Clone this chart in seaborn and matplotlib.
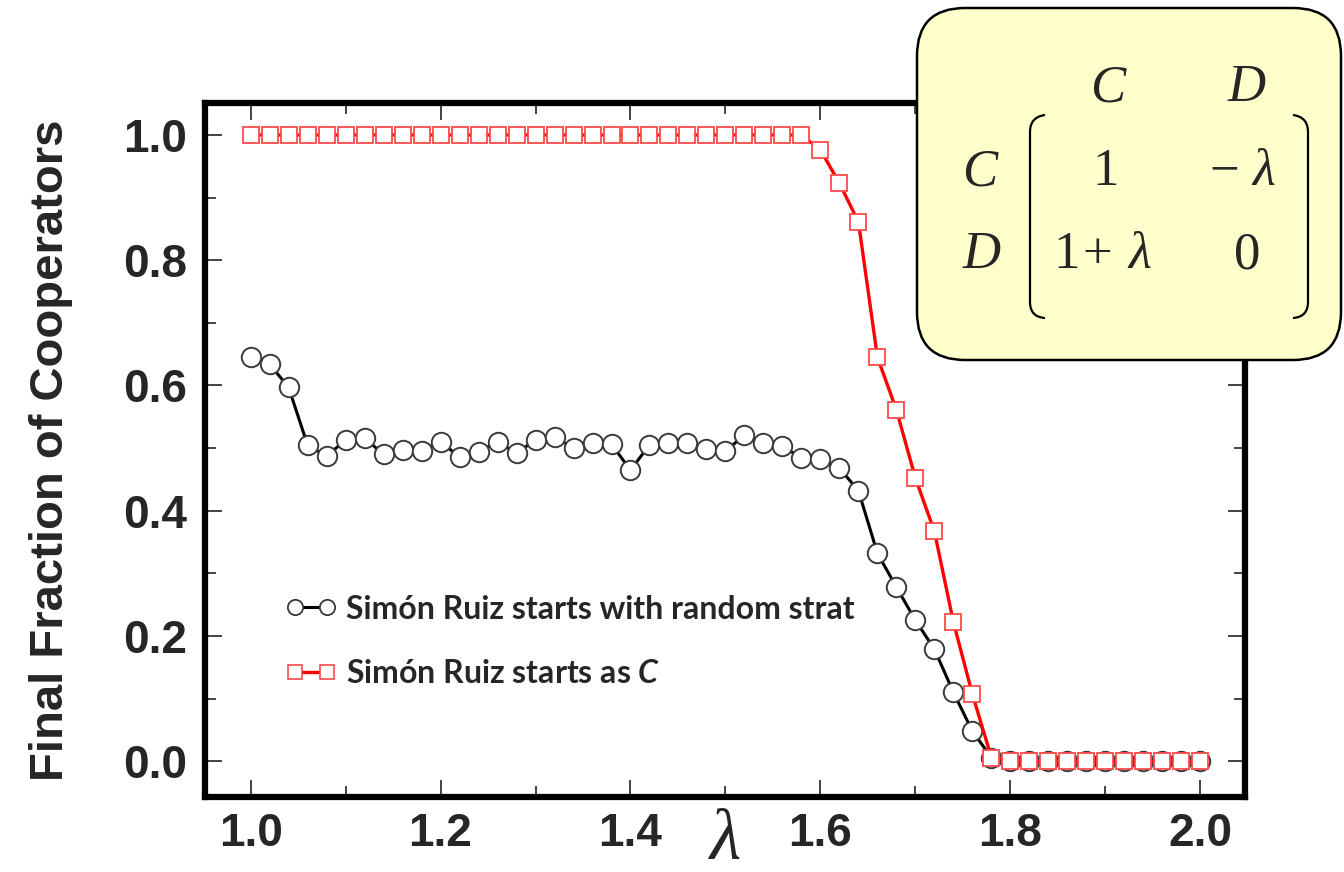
import matplotlib
matplotlib.use("Agg")
import matplotlib.pyplot as plt
import seaborn as sns
import pandas as pd
from matplotlib.patches import FancyBboxPatch, PathPatch
from matplotlib.path import Path
from matplotlib.lines import Line2D
from matplotlib.transforms import IdentityTransform
from matplotlib.ticker import MultipleLocator

# ---------------- data ----------------
lam = [1.00, 1.02, 1.04, 1.06, 1.08, 1.10, 1.12, 1.14, 1.16, 1.18,
       1.20, 1.22, 1.24, 1.26, 1.28, 1.30, 1.32, 1.34, 1.36, 1.38,
       1.40, 1.42, 1.44, 1.46, 1.48, 1.50, 1.52, 1.54, 1.56, 1.58,
       1.60, 1.62, 1.64, 1.66, 1.68, 1.70, 1.72, 1.74, 1.76, 1.78,
       1.80, 1.82, 1.84, 1.86, 1.88, 1.90, 1.92, 1.94, 1.96, 1.98, 2.00]

random_strat = [0.645, 0.634, 0.597, 0.505, 0.487, 0.513, 0.516, 0.490, 0.497, 0.495,
                0.510, 0.486, 0.494, 0.510, 0.492, 0.513, 0.518, 0.500, 0.508, 0.506,
                0.465, 0.505, 0.508, 0.508, 0.498, 0.495, 0.521, 0.508, 0.503, 0.484,
                0.482, 0.468, 0.432, 0.332, 0.278, 0.225, 0.179, 0.110, 0.048, 0.006,
                0.0, 0.0, 0.0, 0.0, 0.0, 0.0, 0.0, 0.0, 0.0, 0.0, 0.0]

starts_c = [1.0, 1.0, 1.0, 1.0, 1.0, 1.0, 1.0, 1.0, 1.0, 1.0,
            1.0, 1.0, 1.0, 1.0, 1.0, 1.0, 1.0, 1.0, 1.0, 1.0,
            1.0, 1.0, 1.0, 1.0, 1.0, 1.0, 1.0, 1.0, 1.0, 1.0,
            0.976, 0.923, 0.861, 0.645, 0.561, 0.452, 0.367, 0.222, 0.107, 0.006,
            0.0, 0.0, 0.0, 0.0, 0.0, 0.0, 0.0, 0.0, 0.0, 0.0, 0.0]

label_random = "Simón Ruiz starts with random strat"
label_c = "Simón Ruiz starts as $\\mathit{C}$"

x_ticks = [1.0, 1.2, 1.4, 1.6, 1.8, 2.0]
y_ticks = [0.0, 0.2, 0.4, 0.6, 0.8, 1.0]

df = pd.DataFrame({"lam": lam, "random": random_strat, "startc": starts_c})

# ---------------- style ----------------
sns.set_style("ticks")
plt.rcParams["font.family"] = ["Liberation Sans", "DejaVu Sans"]
plt.rcParams["mathtext.fontset"] = "custom"
plt.rcParams["mathtext.it"] = "Lato:italic:bold"
plt.rcParams["mathtext.rm"] = "Lato:bold"

W, H = 1344, 872
fig = plt.figure(figsize=(W / 100, H / 100), dpi=100)
ax = fig.add_axes([205 / W, 1 - 797 / H, 1040 / W, 694 / H])

sns.lineplot(data=df, x="lam", y="random", ax=ax, color="black", lw=2.2,
             marker="o", markersize=14, markerfacecolor="white",
             markeredgecolor="#3a3a3a", markeredgewidth=1.4, zorder=3)
sns.lineplot(data=df, x="lam", y="startc", ax=ax, color="#ff0000", lw=2.4,
             marker="s", markersize=11.5, markerfacecolor="white",
             markeredgecolor="#ff4a4a", markeredgewidth=1.3, zorder=4)

ax.set_xlim(0.952, 2.047)
ax.set_ylim(-0.057, 1.051)
ax.set_xticks(x_ticks)
ax.set_yticks(y_ticks)
ax.set_xticklabels([f"{v:.1f}" for v in x_ticks])
ax.set_yticklabels([f"{v:.1f}" for v in y_ticks])
ax.xaxis.set_minor_locator(MultipleLocator(0.1))
ax.yaxis.set_minor_locator(MultipleLocator(0.1))
ax.tick_params(which="both", direction="in", top=True, right=True, width=1.2,
               color="#222222")
ax.tick_params(which="major", length=12)
ax.tick_params(which="minor", length=8)
ax.tick_params(axis="y", which="major", pad=13)
ax.tick_params(axis="x", which="major", pad=11)
for lab in ax.get_xticklabels() + ax.get_yticklabels():
    lab.set_fontsize(33)
    lab.set_fontweight("bold")
for sp in ax.spines.values():
    sp.set_linewidth(4.5)
    sp.set_color("black")

ax.set_ylabel("Final Fraction of Cooperators", fontsize=34, fontweight="bold",
              labelpad=36)
ax.set_xlabel("λ", fontsize=52, family="Liberation Serif", style="italic",
              labelpad=-34)

handles = [
    Line2D([], [], color="black", lw=2.2, marker="o", markersize=11,
           markerfacecolor="white", markeredgecolor="#3a3a3a", markeredgewidth=1.3),
    Line2D([], [], color="#ff0000", lw=2.4, marker="s", markersize=10,
           markerfacecolor="white", markeredgecolor="#ff4a4a", markeredgewidth=1.2),
]
leg = ax.legend(handles, [label_random, label_c], loc="upper left",
                bbox_to_anchor=(0.05, 0.333), frameon=False, numpoints=2,
                handlelength=1.6, handletextpad=0.3, labelspacing=1.12,
                prop={"family": "Lato", "weight": "bold", "size": 23})

# ---------------- payoff matrix box ----------------
T = IdentityTransform()


def P(x, y):
    return (x, H - y)


box = FancyBboxPatch(P(917, 360), 1341 - 917, 352,
                     boxstyle="round,pad=0,rounding_size=48",
                     facecolor="#ffffcc", edgecolor="black", linewidth=1.8,
                     transform=T, zorder=10)
fig.add_artist(box)

fs = 38
it = dict(family="Liberation Serif", style="italic", fontsize=fs,
          ha="center", va="center", transform=T, zorder=11)
rm = dict(family="Liberation Serif", fontsize=fs,
          ha="center", va="center", transform=T, zorder=11)
fig.text(*P(1108, 88), "C", **it)
fig.text(*P(1247, 88), "D", **it)
fig.text(*P(980, 172), "C", **it)
fig.text(*P(982, 255), "D", **it)
fig.text(*P(1106, 172), "1", **rm)
fig.text(*P(1224, 172), "−", **rm)
fig.text(*P(1264, 172), "λ", **it)
fig.text(*P(1067, 255), "1", **rm)
fig.text(*P(1097, 255), "+", **rm)
fig.text(*P(1140, 255), "λ", **it)
fig.text(*P(1247, 255), "0", **rm)

lb = Path([P(1045, 115), P(1030, 117), P(1030, 132), P(1030, 302),
           P(1030, 317), P(1045, 318)],
          [Path.MOVETO, Path.CURVE3, Path.CURVE3, Path.LINETO,
           Path.CURVE3, Path.CURVE3])
rb = Path([P(1293, 115), P(1308, 117), P(1308, 132), P(1308, 302),
           P(1308, 317), P(1293, 318)],
          [Path.MOVETO, Path.CURVE3, Path.CURVE3, Path.LINETO,
           Path.CURVE3, Path.CURVE3])
for pth in (lb, rb):
    fig.add_artist(PathPatch(pth, facecolor="none", edgecolor="black",
                             linewidth=1.6, transform=T, zorder=11))

fig.savefig("out.png", dpi=100)
